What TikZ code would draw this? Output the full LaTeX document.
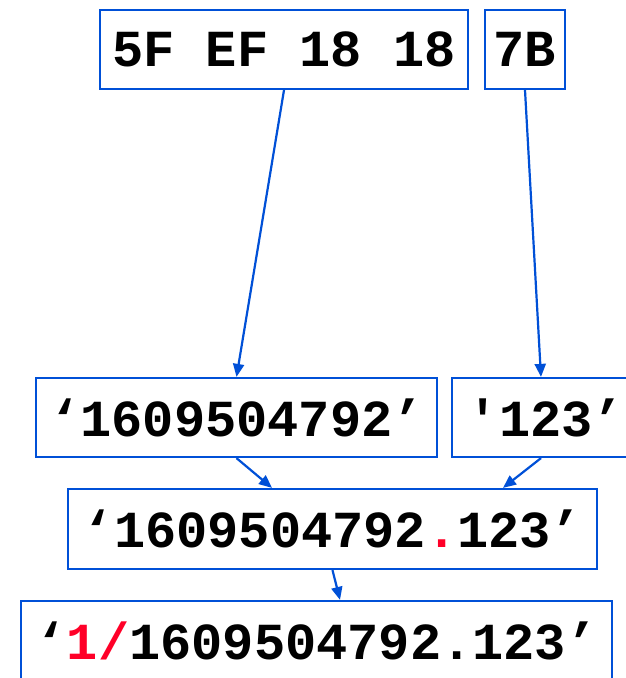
\documentclass[tikz,border=0pt]{standalone}
\usepackage{fontspec}
\setmonofont{Liberation Mono}
\usetikzlibrary{arrows.meta}
\definecolor{lineblue}{RGB}{0,80,215}
\definecolor{hired}{RGB}{255,0,40}
\begin{document}
\begin{tikzpicture}[x=1pt,y=-1pt,
  box/.style={draw=lineblue, line width=2.2pt, inner sep=0pt, fill=white,
    font=\ttfamily\bfseries\fontsize{52}{52}\selectfont, text=black},
  conn/.style={draw=lineblue, line width=2.2pt, -{Triangle[length=13pt,width=11pt]}}]
\useasboundingbox (0,0) rectangle (625,678);
\node[box, minimum width=368, minimum height=79] (a) at (284,49.5) {5F EF 18 18};
\node[box, minimum width=80, minimum height=79] (b) at (525,49.5) {7B};
\node[box, minimum width=401, minimum height=79] (c) at (236.5,417.5) {‘1609504792’};
\node[box, minimum width=188, minimum height=79] (d) at (546,417.5) {'123’};
\node[box, minimum width=529, minimum height=80] (e) at (332.5,529) {‘1609504792\textcolor{hired}{.}123’};
\node[box, minimum width=591, minimum height=80] (f) at (316.5,641) {‘\textcolor{hired}{1/}1609504792.123’};
\draw[conn] (a.south) -- (c.north);
\draw[conn] (b.south) -- ([xshift=-5]d.north);
\draw[conn] (c.south) -- ([xshift=-60.5]e.north);
\draw[conn] ([xshift=-5]d.south) -- ([xshift=170.5]e.north);
\draw[conn] (e.south) -- ([xshift=23.5]f.north);
\end{tikzpicture}
\end{document}
